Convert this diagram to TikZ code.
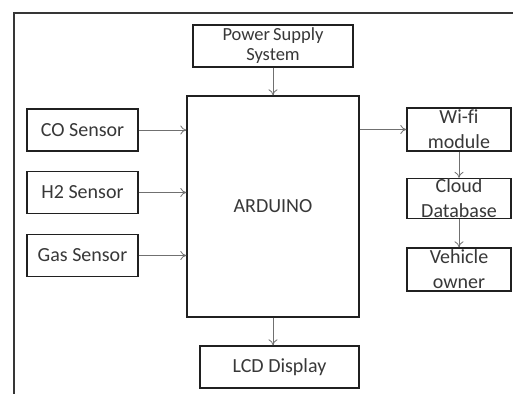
\documentclass[tikz,border=0pt]{standalone}
\usepackage{fontspec}
\setmainfont{Carlito}
\usetikzlibrary{arrows.meta,positioning}
\definecolor{BoxLine}{HTML}{202020}
\definecolor{FlowGray}{HTML}{707070}
\definecolor{TextGray}{HTML}{383838}

\begin{document}
\begin{tikzpicture}[x=1pt,y=-1pt,
    blockbox/.style={draw=BoxLine,line width=1.3pt,inner sep=0pt,align=center,text=TextGray,
      font=\fontsize{20}{25}\selectfont},
    flow/.style={-{To[length=6pt,width=9pt]},FlowGray,line width=0.8pt}]
        \useasboundingbox (0,0) rectangle (513,394);
        \fill[white] (0,0) rectangle (513,394);
        % outer frame
        \draw[line width=2.4pt,BoxLine!90] (513,13) -- (14,13) -- (14,394);
        \node[blockbox,minimum width=160pt,minimum height=42pt,font=\fontsize{18.5}{20}\selectfont] (power) at (273,46) {Power\,Supply\\System};
        \node[blockbox,minimum width=172pt,minimum height=221pt] (arduino) at (273,206.5) {ARDUINO};
        \node[blockbox,minimum width=111pt,minimum height=42pt] (co) at (82.5,130) {CO Sensor};
        \node[blockbox,minimum width=111pt,minimum height=42pt] (htwo) at (82.5,192.5) {H2 Sensor};
        \node[blockbox,minimum width=111pt,minimum height=42pt] (gas) at (82.5,255.5) {Gas Sensor};
        \node[blockbox,minimum width=104pt,minimum height=43pt] (wifi) at (459,129.5) {Wi-f\kern0pt i\\module};
        \node[blockbox,minimum width=104pt,minimum height=40pt] (cloud) at (459,198.5) {Cloud\\Database};
        \node[blockbox,minimum width=104pt,minimum height=43pt] (owner) at (459,269.5) {Vehicle\\owner};
        \node[blockbox,minimum width=159pt,minimum height=42pt] (lcd) at (279.5,367) {LCD Display};
        \draw[flow] (power.south) -- (power.south |- arduino.north);
        \draw[flow] (co.east) -- (co.east -| arduino.west);
        \draw[flow] (htwo.east) -- (htwo.east -| arduino.west);
        \draw[flow] (gas.east) -- (gas.east -| arduino.west);
        \draw[flow] (wifi.west -| arduino.east) -- (wifi.west);
        \draw[flow] (wifi) -- (cloud);
        \draw[flow] (cloud) -- (owner);
        \draw[flow] (arduino.south) -- (arduino.south |- lcd.north);
      \end{tikzpicture}
\end{document}
